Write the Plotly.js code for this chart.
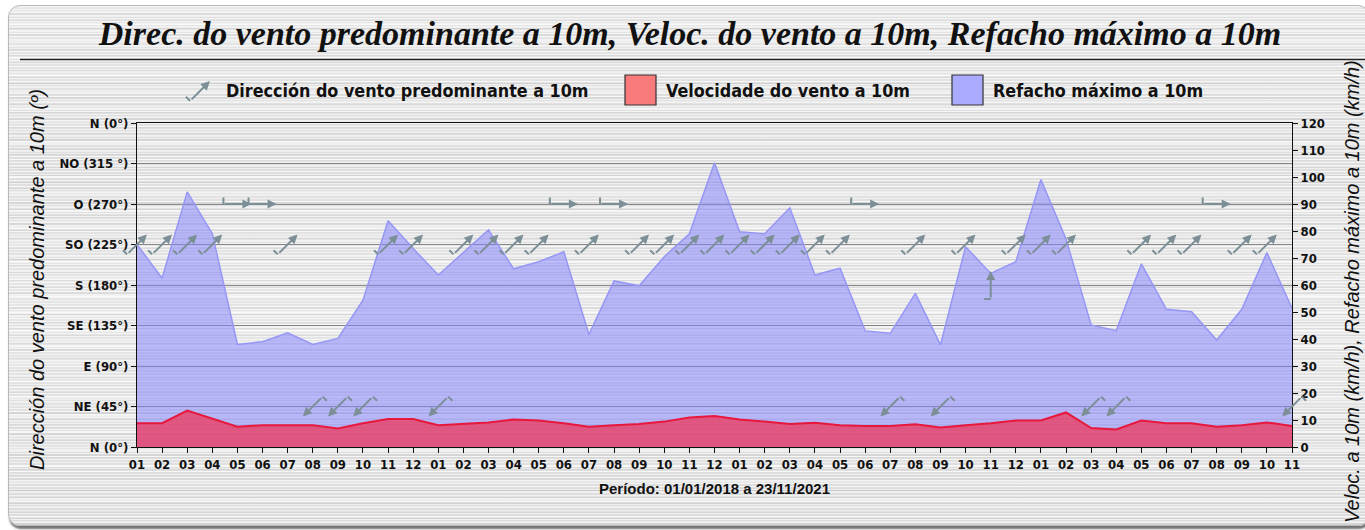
<!DOCTYPE html>
<html>
<head>
<meta charset="utf-8">
<script src="https://cdn.plot.ly/plotly-3.0.1.min.js"></script>
<style>
  html, body { margin:0; padding:0; background:#ffffff; }
  #panel {
    position:absolute; left:8px; top:5px; width:1360px; height:519px;
    border-radius:12px; border:1px solid #b8b8b8;
    box-shadow: 1px 3px 2px rgba(0,0,0,0.55);
    background:
      repeating-linear-gradient(180deg, rgba(255,255,255,0.6) 0 1px, rgba(255,255,255,0) 1px 3px),
      repeating-linear-gradient(180deg, rgba(0,0,0,0.045) 0 2px, rgba(0,0,0,0) 2px 7px),
      repeating-linear-gradient(180deg, rgba(255,255,255,0.45) 0 1px, rgba(255,255,255,0) 1px 5px),
      repeating-linear-gradient(180deg, rgba(0,0,0,0.035) 0 1px, rgba(0,0,0,0) 1px 11px),
      repeating-linear-gradient(180deg, rgba(255,255,255,0.5) 0 2px, rgba(255,255,255,0) 2px 17px),
      linear-gradient(180deg, #e6e6e6 0%, #dedede 30%, #e6e6e6 60%, #dcdcdc 100%);
  }
  #chart { position:absolute; left:0; top:0; width:1365px; height:530px; }
</style>
</head>
<body>
<div id="panel"></div>
<div id="chart"></div>
<script>
// ---------------- DATA ----------------
const months = ['2018-01','2018-02','2018-03','2018-04','2018-05','2018-06','2018-07','2018-08','2018-09','2018-10','2018-11','2018-12',
                '2019-01','2019-02','2019-03','2019-04','2019-05','2019-06','2019-07','2019-08','2019-09','2019-10','2019-11','2019-12',
                '2020-01','2020-02','2020-03','2020-04','2020-05','2020-06','2020-07','2020-08','2020-09','2020-10','2020-11','2020-12',
                '2021-01','2021-02','2021-03','2021-04','2021-05','2021-06','2021-07','2021-08','2021-09','2021-10','2021-11'];
const monthLabels = ['01','02','03','04','05','06','07','08','09','10','11','12',
                     '01','02','03','04','05','06','07','08','09','10','11','12',
                     '01','02','03','04','05','06','07','08','09','10','11','12',
                     '01','02','03','04','05','06','07','08','09','10','11'];
// predominant wind direction (degrees, from)
const windDir = [225,225,225,225,270,270,225,45,45,45,225,225,
                 45,225,225,225,225,270,225,270,225,225,225,225,
                 225,225,225,225,225,270,45,225,45,225,180,225,
                 225,225,45,45,225,225,225,270,225,225,45];
// mean wind speed (km/h)
const windSpeed = [8.8,8.8,13.5,10.6,7.5,8.1,8.1,8.1,6.9,8.8,10.4,10.4,
                   8.1,8.5,9.1,10.2,9.8,8.8,7.5,8.1,8.5,9.4,10.9,11.5,
                   10.2,9.4,8.5,9.0,8.1,7.8,7.8,8.4,7.2,8.1,8.8,9.8,
                   9.8,12.8,7.0,6.5,9.8,8.8,8.8,7.5,8.1,9.1,7.8];
// maximum gust (km/h)
const gust = [75,62.5,94.5,79,38,39,42.3,38,40.2,54.4,83.8,73.5,
              63.7,72,80.4,66,68.6,72.3,41.7,61.5,59.7,70.5,79,105.3,
              79.7,79,88.6,63.7,66.2,43,42.1,56.9,37.8,74.2,64.3,68.6,
              99.1,77,45.2,43.1,67.8,51,50.1,39.6,51,72,51.4];
const dirTickVals = [0,45,90,135,180,225,270,315,360];
const dirTickText = ['N (0°)','NE (45°)','E (90°)','SE (135°)','S (180°)','SO (225°)','O (270°)','NO (315 °)','N (0°)'];

// ---------------- GEOMETRY HELPERS ----------------
const W = 1365, H = 530;
const M = {l:137, r:73, t:123, b:83};
const PW = W - M.l - M.r, PH = H - M.t - M.b;
const px = x => (x - M.l) / PW;          // pixel x -> paper
const py = y => (H - M.b - y) / PH;      // pixel y -> paper

const ARROW_COLOR = '#7c8f97';
const SHAFT = 28, FIN = 8;

function arrowGlyph(x, y, deg, xref, yref) {
  const to = (deg + 180) * Math.PI / 180;
  const ux = Math.sin(to), uy = -Math.cos(to);   // screen direction (y down)
  const fx = uy, fy = -ux;                          // fin: rotated 90° ccw on screen
  return [
    { x:x, y:y, xref:xref, yref:yref, text:'', showarrow:true,
      arrowhead:2, arrowsize:0.9, arrowwidth:2, arrowcolor:ARROW_COLOR,
      ax:-ux*SHAFT, ay:-uy*SHAFT, xshift:ux*SHAFT/2, yshift:-uy*SHAFT/2 },
    { x:x, y:y, xref:xref, yref:yref, text:'', showarrow:true,
      arrowhead:0, arrowwidth:2, arrowcolor:ARROW_COLOR,
      ax:fx*FIN, ay:fy*FIN, xshift:-ux*SHAFT/2, yshift:uy*SHAFT/2 }
  ];
}

const tickFont = {family:'Liberation Sans Narrow, DejaVu Sans Condensed, Arial Narrow, sans-serif', size:13, color:'#111', weight:'bold'};
const legFont  = {family:'Liberation Sans Narrow, DejaVu Sans Condensed, Arial Narrow, sans-serif', size:17.8, color:'#111', weight:'bold'};

// ---------------- TRACES ----------------
const traces = [
  { type:'scatter', x:months, y:gust, yaxis:'y2', mode:'lines', fill:'tozeroy',
    line:{color:'rgb(150,150,245)', width:1.5}, fillcolor:'rgba(130,130,255,0.52)',
    name:'Refacho máximo a 10m', showlegend:false },
  { type:'scatter', x:months, y:windSpeed, yaxis:'y2', mode:'lines', fill:'tozeroy',
    line:{color:'#e8183c', width:2}, fillcolor:'rgba(240,50,85,0.72)',
    name:'Velocidade do vento a 10m', showlegend:false },
  { type:'scatter', x:months, y:windDir, yaxis:'y', mode:'markers',
    marker:{size:1, opacity:0}, name:'Dirección do vento predominante a 10m',
    showlegend:false, hoverinfo:'skip' }
];

// ---------------- ANNOTATIONS ----------------
let annotations = [];
for (let i = 0; i < months.length; i++) {
  annotations = annotations.concat(arrowGlyph(months[i], windDir[i], windDir[i], 'x', 'y'));
}
// legend
annotations = annotations.concat(arrowGlyph(px(200), py(91), 225, 'paper', 'paper'));
annotations.push({xref:'paper', yref:'paper', x:px(224), y:py(90), xanchor:'left', yanchor:'middle',
  text:'Dirección do vento predominante a 10m', showarrow:false, font:legFont});
annotations.push({xref:'paper', yref:'paper', x:px(664), y:py(90), xanchor:'left', yanchor:'middle',
  text:'Velocidade do vento a 10m', showarrow:false, font:legFont});
annotations.push({xref:'paper', yref:'paper', x:px(991), y:py(90), xanchor:'left', yanchor:'middle',
  text:'Refacho máximo a 10m', showarrow:false, font:legFont});
// axis titles
const axTitleFont = {family:'Liberation Sans, Arial, sans-serif', size:20, color:'#111', style:'italic'};
annotations.push({xref:'paper', yref:'paper', x:px(37), y:py(280), textangle:-90, showarrow:false,
  text:'Dirección do vento predominante a 10m (º)', font:axTitleFont, xanchor:'center', yanchor:'middle'});
annotations.push({xref:'paper', yref:'paper', x:px(1352), y:py(292), textangle:-90, showarrow:false,
  text:'Veloc. a 10m (km/h), Refacho máximo a 10m (km/h)', font:axTitleFont, xanchor:'center', yanchor:'middle'});
annotations.push({xref:'paper', yref:'paper', x:0.5, y:py(489), showarrow:false,
  text:'Período: 01/01/2018 a 23/11/2021', xanchor:'center', yanchor:'middle',
  font:{family:'Liberation Sans, Arial, sans-serif', size:15, color:'#111', weight:'bold'}});

const shapes = [
  {type:'line', xref:'paper', yref:'paper', x0:px(20), x1:px(1365), y0:py(59.5), y1:py(59.5),
   line:{color:'#222', width:1.5}},
  {type:'rect', xref:'paper', yref:'paper', x0:px(625), x1:px(656), y0:py(75), y1:py(105),
   fillcolor:'#f87a7a', line:{color:'#333', width:1.2}},
  {type:'rect', xref:'paper', yref:'paper', x0:px(952), x1:px(983), y0:py(75), y1:py(105),
   fillcolor:'#aaaaff', line:{color:'#333', width:1.2}}
];

const layout = {
  width:W, height:H,
  margin:{l:M.l, r:M.r, t:M.t, b:M.b, pad:0},
  paper_bgcolor:'rgba(0,0,0,0)', plot_bgcolor:'rgba(0,0,0,0)',
  showlegend:false,
  title:{text:'Direc. do vento predominante a 10m, Veloc. do vento a 10m, Refacho máximo a 10m',
         font:{family:'Liberation Serif, Times New Roman, serif', size:34, color:'#111', style:'italic', weight:'bold'},
         xref:'container', x:690/W, xanchor:'center', yref:'container', y:1-33/H, yanchor:'middle'},
  xaxis:{type:'category', range:[0, months.length-1], tickmode:'array', tickvals:months, ticktext:monthLabels,
         showgrid:false, showline:true, linecolor:'#111', linewidth:1, mirror:true,
         ticks:'outside', ticklen:5, tickcolor:'#111', tickfont:tickFont, zeroline:false, fixedrange:true},
  yaxis:{range:[0,360], tickmode:'array', tickvals:dirTickVals, ticktext:dirTickText,
         showgrid:true, gridcolor:'rgba(110,110,110,0.8)', gridwidth:1,
         showline:true, linecolor:'#111', linewidth:1, ticks:'outside', ticklen:5, tickcolor:'#111',
         tickfont:tickFont, zeroline:false, fixedrange:true},
  yaxis2:{range:[0,120], dtick:10, overlaying:'y', side:'right', showgrid:false,
          showline:true, linecolor:'#111', linewidth:1, ticks:'outside', ticklen:5, tickcolor:'#111',
          tickfont:tickFont, zeroline:false, fixedrange:true},
  annotations:annotations,
  shapes:shapes
};

Plotly.newPlot('chart', traces, layout, {staticPlot:true, displayModeBar:false});
</script>
</body>
</html>
